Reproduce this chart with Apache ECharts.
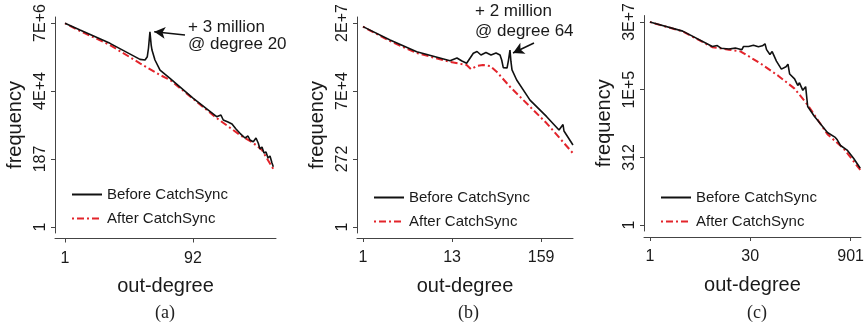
<!DOCTYPE html>
<html><head><meta charset="utf-8">
<script src="https://cdn.jsdelivr.net/npm/echarts@6/dist/echarts.min.js"></script>
<style>html,body{margin:0;padding:0;background:#fff}#c{width:867px;height:329px}</style>
</head><body><div id="c"></div>
<script>
// ---------- data ----------
const seriesNames = ['Before CatchSync', 'After CatchSync'];
const panelCaptions = ['(a)', '(b)', '(c)'];
const notesA = ['+ 3 million', '@ degree 20'];
const notesB = ['+ 2 million', '@ degree 64'];

// panel (a)
const aXTicks = [1, 92];
const aXLabels = ['1', '92'];
const aYTicks = [1, 187, 34969, 6539203];
const aYLabels = ['1', '187', '4E+4', '7E+6'];
const aBeforeX = [1, 1.70, 4.9, 14.15, 16.9, 18.3, 19.1, 20.1, 21.0, 21.6, 24, 28.7, 40.8, 93, 212, 247, 268, 317, 365, 420, 484, 578, 642, 689, 774, 852, 924, 981, 1053, 1130, 1213, 1302, 1397, 1499, 1570];
const aBeforeY = [6.4e6, 3.82e6, 1.37e6, 4.0e5, 3.8e5, 4.9e5, 9.57e5, 3.35e6, 1.2e6, 8.2e5, 3.8e5, 1.76e5, 9.3e4, 2.0e4, 4840, 5520, 3760, 3222, 2762, 1880, 1352, 941, 1098, 807, 708, 941, 626, 404, 471, 297, 320, 202, 236, 137, 103];
const aAfterX = [1, 1.70, 4.9, 14.15, 28.7, 40.8, 93, 212, 484, 774, 1053, 1243, 1570];
const aAfterY = [6.4e6, 3.54e6, 1.2e6, 2.95e5, 1.2e5, 8.2e4, 1.9e4, 4380, 1186, 640, 374, 202, 87];

// panel (b)
const bXTicks = [1, 12.61, 159];
const bXLabels = ['1', '13', '159'];
const bYTicks = [1, 272, 73984, 20123648];
const bYLabels = ['1', '272', '7E+4', '2E+7'];
const bBeforeX = [1, 2.16, 4.61, 11.9, 14.5, 16.7, 19.1, 23.1, 25.7, 28.7, 33.1, 38.2, 44.1, 49.4, 51.8, 54.2, 60.3, 62.9, 65.6, 67.5, 69.5, 79.4, 116, 186.5, 264.7, 296.7, 305, 394];
const bBeforeY = [1.49e7, 4.96e6, 1.89e6, 9.0e5, 1.12e6, 8.8e5, 7.3e5, 1.66e6, 1.92e6, 1.44e6, 1.77e6, 1.44e6, 1.7e6, 1.44e6, 9.5e5, 5.1e5, 4.9e5, 9.5e5, 2.17e6, 8.1e5, 4.2e5, 1.83e5, 3.5e4, 8900, 2972, 4677, 2735, 863];
const bAfterX = [1, 2.16, 4.61, 11.9, 19.1, 21.6, 25.4, 30.4, 37.2, 44.9, 65.6, 116, 186.5, 394];
const bAfterY = [1.49e7, 4.5e6, 1.7e6, 8.1e5, 6.3e5, 4.5e5, 5.8e5, 6.3e5, 5.8e5, 3.63e5, 1.05e5, 2.03e4, 5160, 435];

// panel (c)
const cXTicks = [1, 30, 901];
const cXLabels = ['1', '30', '901'];
const cYTicks = [1, 312, 97344, 30371328];
const cYLabels = ['1', '312', '1E+5', '3E+7'];
const cBeforeX = [1, 3.04, 8.29, 9.8, 11.1, 14.5, 18.1, 22.6, 23.9, 28.3, 33.4, 39.5, 45.2, 49.4, 52.1, 58.4, 63.0, 72.8, 86.1, 100.7, 107.6, 114, 134.6, 150, 159, 178, 196, 210, 263, 410, 535, 572, 639, 799, 855, 1000, 1247];
const cBeforeY = [3.0e7, 1.39e7, 3.8e6, 4.1e6, 3.27e6, 3.06e6, 3.3e6, 2.89e6, 3.8e6, 3.8e6, 4.2e6, 3.7e6, 4.0e6, 4.75e6, 2.89e6, 1.91e6, 2.45e6, 1.1e6, 5.53e5, 6.8e5, 8.4e5, 3.66e5, 2.42e5, 1.39e5, 1.74e5, 9.2e4, 1.25e5, 2.34e4, 1.02e4, 2570, 1700, 1383, 856, 581, 631, 283, 124];
const cAfterX = [1, 3.04, 8.29, 14.5, 21.4, 28.3, 44.1, 77.1, 134.6, 210, 410, 716, 1247];
const cAfterY = [3.0e7, 1.35e7, 3.56e6, 2.89e6, 2.5e6, 1.66e6, 8.4e5, 3.18e5, 1.06e5, 2.67e4, 2230, 647, 108];

// annotation arrows (data coordinates: from -> to)
const arrowA = [[69.3, 2.6e6], [23.4, 3.35e6]];
const arrowB = [[129.9, 3.87e6], [71.5, 1.7e6]];

// ---------- chart ----------
const FONT = '"Liberation Sans", Arial, sans-serif';
const AXC = '#444';
const TXC = '#1a1a1a';
const BLACK = '#111';
const RED = '#e3242b';

function pairs(xs, ys) { return xs.map((x, i) => [x, ys[i]]); }
function fmt(vals, labels) {
  return function (v) {
    let best = -1, bd = Infinity;
    vals.forEach((t, i) => { const d = Math.abs(Math.log(v) - Math.log(t)); if (d < bd) { bd = d; best = i; } });
    return bd < 0.05 ? labels[best] : '';
  };
}

const panels = [
  { grid: { left: 55, right: 591, top: 17, bottom: 96 }, xr: [0.702, 1727], yr: [0.630, 1.04e7], xoff: 5.5, legTop: 182,
    xt: aXTicks, xl: aXLabels, yt: aYTicks, yl: aYLabels,
    bx: aBeforeX, by: aBeforeY, ax: aAfterX, ay: aAfterY, arrow: arrowA },
  { grid: { left: 357, right: 294, top: 17, bottom: 96 }, xr: [0.843, 394.3], yr: [0.610, 3.30e7], xoff: 5, legTop: 185,
    xt: bXTicks, xl: bXLabels, yt: bYTicks, yl: bYLabels,
    bx: bBeforeX, by: bBeforeY, ax: bAfterX, ay: bAfterY, arrow: arrowB },
  { grid: { left: 644, right: 3, top: 10, bottom: 98 }, xr: [0.818, 1277], yr: [0.609, 5.21e7], xoff: 6, legTop: 185,
    xt: cXTicks, xl: cXLabels, yt: cYTicks, yl: cYLabels,
    bx: cBeforeX, by: cBeforeY, ax: cAfterX, ay: cAfterY, arrow: null }
];

const option = {
  animation: false,
  backgroundColor: '#fff',
  grid: [], xAxis: [], yAxis: [], series: [], legend: [],
  graphic: []
};

panels.forEach((p, i) => {
  option.grid.push(p.grid);
  option.xAxis.push({
    gridIndex: i, type: 'log', min: p.xr[0], max: p.xr[1], offset: p.xoff,
    name: 'out-degree', nameLocation: 'middle', nameGap: 38,
    nameTextStyle: { fontFamily: FONT, fontSize: 20, color: TXC },
    axisLine: { show: true, lineStyle: { color: AXC, width: 1 } },
    axisTick: { show: true, length: 4, lineStyle: { color: AXC }, customValues: p.xt },
    axisLabel: { fontFamily: FONT, fontSize: 16, color: TXC, margin: 12, customValues: p.xt, formatter: fmt(p.xt, p.xl) },
    splitLine: { show: false }, minorTick: { show: false }
  });
  option.yAxis.push({
    gridIndex: i, type: 'log', min: p.yr[0], max: p.yr[1],
    name: 'frequency', nameLocation: 'middle', nameGap: 30, nameRotate: 90,
    nameTextStyle: { fontFamily: FONT, fontSize: 20, color: TXC },
    axisLine: { show: true, lineStyle: { color: AXC, width: 1 } },
    axisTick: { show: true, length: 4, lineStyle: { color: AXC }, customValues: p.yt },
    axisLabel: { fontFamily: FONT, fontSize: 16, color: TXC, rotate: 90, margin: 6, customValues: p.yt, formatter: fmt(p.yt, p.yl) },
    splitLine: { show: false }, minorTick: { show: false }
  });
  option.series.push({
    name: seriesNames[1], type: 'line', xAxisIndex: i, yAxisIndex: i,
    data: pairs(p.ax, p.ay), symbol: 'none', smooth: false,
    lineStyle: { color: RED, width: 2, type: [2, 3, 7, 3] }, itemStyle: { color: RED }, z: 2
  });
  const black = {
    name: seriesNames[0], type: 'line', xAxisIndex: i, yAxisIndex: i,
    data: pairs(p.bx, p.by), symbol: 'none', smooth: false,
    lineStyle: { color: BLACK, width: 1.6 }, itemStyle: { color: BLACK }, z: 3
  };
  if (p.arrow) {
    black.markLine = {
      silent: true, symbol: ['none', 'arrow'], symbolSize: [9, 11],
      label: { show: false },
      lineStyle: { color: BLACK, width: 1.5, type: 'solid' },
      data: [[{ coord: p.arrow[0] }, { coord: p.arrow[1] }]]
    };
  }
  option.series.push(black);
  option.legend.push({
    left: p.grid.left + 11, top: p.legTop, orient: 'vertical',
    itemWidth: 30, itemHeight: 14, itemGap: 9,
    data: seriesNames, selectedMode: false,
    itemStyle: { opacity: 0 },
    textStyle: { fontFamily: FONT, fontSize: 15, color: TXC }
  });
});

// captions
[165, 468, 757].forEach((cx, i) => {
  option.graphic.push({ type: 'text', left: cx - 10, top: 304,
    style: { text: panelCaptions[i], font: '18px "Liberation Serif", serif', fill: '#222' } });
});
// annotation texts
option.graphic.push({ type: 'text', left: 188, top: 19, style: { text: notesA[0], font: '17px ' + FONT, fill: TXC } });
option.graphic.push({ type: 'text', left: 188, top: 36, style: { text: notesA[1], font: '17px ' + FONT, fill: TXC } });
option.graphic.push({ type: 'text', left: 475, top: 3, style: { text: notesB[0], font: '17px ' + FONT, fill: TXC } });
option.graphic.push({ type: 'text', left: 475, top: 23, style: { text: notesB[1], font: '17px ' + FONT, fill: TXC } });

const chart = echarts.init(document.getElementById('c'), null, { renderer: 'canvas' });
chart.setOption(option);
</script></body></html>
